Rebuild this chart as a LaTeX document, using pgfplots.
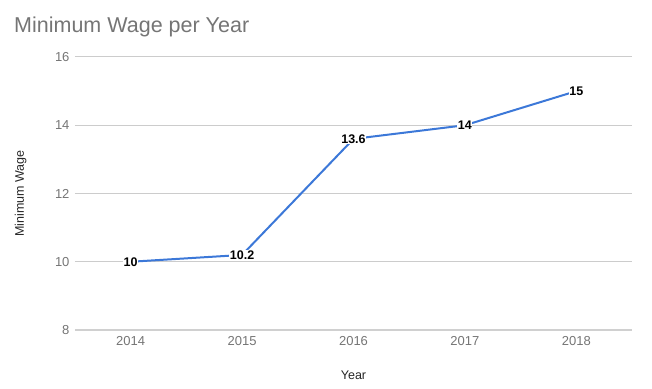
\documentclass[border=0pt]{standalone}
\usepackage{fontspec}
\setmainfont{Liberation Sans}
\usepackage{pgfplots}
\pgfplotsset{compat=1.18}
\definecolor{txtgray}{HTML}{757575}
\definecolor{gridgray}{HTML}{CCCCCC}
\definecolor{basegray}{HTML}{D0D0D0}
\definecolor{lineblue}{HTML}{3C78D8}
\begin{document}
\begin{tikzpicture}
\begin{axis}[
  scale only axis,
  width=557pt, height=273pt,
  xmin=2013.5, xmax=2018.5,
  ymin=8, ymax=16,
  xtick={2014,2015,2016,2017,2018},
  ytick={8,10,12,14,16},
  xticklabel style={/pgf/number format/1000 sep={}},
  /pgf/number format/assume math mode=true,
  tick label style={font=\fontsize{13}{15}\selectfont, text=txtgray},
  axis line style={draw=none},
  major tick style={draw=none},
  ymajorgrids,
  grid style={draw=gridgray, line width=1pt},
  xticklabel style={yshift=-3pt},
  yticklabel style={xshift=-2pt},
  xlabel={Year},
  ylabel={Minimum Wage},
  label style={font=\fontsize{12.5}{14}\selectfont, text=black!85},
  xlabel style={at={(rel axis cs:0.5,0)}, anchor=north, yshift=-37pt},
  ylabel style={at={(rel axis cs:0,0.5)}, anchor=south, xshift=0pt, yshift=45pt},
  clip=false,
]
\draw[basegray, line width=1.6pt] (rel axis cs:0,0) -- (rel axis cs:1,0);
\addplot[lineblue, line width=2pt,
  nodes near coords,
  point meta=explicit symbolic,
  every node near coord/.style={anchor=center, fill=white, inner sep=0.5pt, text=black, font=\bfseries\fontsize{12.5}{14}\selectfont},
] coordinates {
  (2014,10) [10]
  (2015,10.2) [10.2]
  (2016,13.6) [13.6]
  (2017,14) [14]
  (2018,15) [15]
};
\end{axis}
\node[anchor=base west, text=txtgray, font=\fontsize{21.5}{25}\selectfont, inner sep=0pt] at (-61pt, 297pt) {Minimum Wage per Year};
\pgfresetboundingbox
\path (-75pt,-58pt) rectangle (577pt,330pt);
\end{tikzpicture}
\end{document}
